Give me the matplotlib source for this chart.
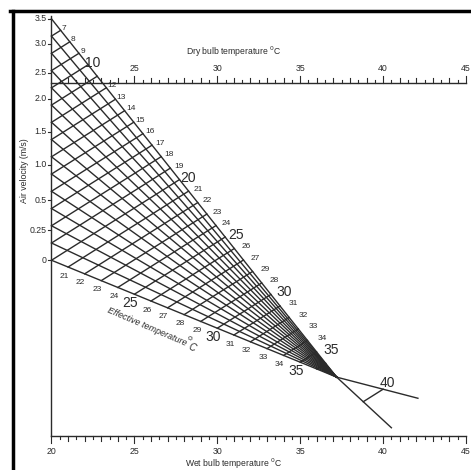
import matplotlib.pyplot as plt
import numpy as np
from matplotlib.lines import Line2D

# velocity scale on the left: labels and where they sit (in ET units along the scale)
vel_labels = ["3.5", "3.0", "2.5", "2.0", "1.5", "1.0", "0.5", "0.25", "0"]
vel_at_et = [6.0, 7.45, 9.13, 10.63, 12.54, 14.45, 16.53, 18.26, 20.0]

# effective temperature grid
et_left = list(range(6, 21))     # lines meeting the velocity scale
et_still = list(range(21, 37))   # lines starting on the 0 m/s line
et_upper = [7, 8, 9, 10, 12, 13, 14, 15, 16, 17, 18, 19, 20, 21, 22, 23, 24,
            25, 26, 27, 28, 29, 30, 31, 32, 33, 34, 35]
et_upper_text = ["7", "8", "9", "10", "12", "13", "14", "15", "16", "17", "18",
                 "19", "20", "21", "22", "23", "24", "25", "26", "27", "29",
                 "28", "30", "31", "32", "33", "34", "35"]
et_lower = list(range(21, 36))
et_big = [10, 20, 25, 30, 35]

dry_ticks = [25, 30, 35, 40, 45]
wet_ticks = [20, 25, 30, 35, 40, 45]

# nomogram geometry (temperature units on both axes)
x0 = 20.0          # velocity scale sits at 20 C
y_still = 10.6     # height of 0 m/s
step = 1.04        # height per ET degree on the velocity scale
et_c, y_c = 37.2, 3.55   # all velocity lines meet here
y_dry, y_wet = 21.27, 0.0
px = 1 / 16.58     # one pixel in data units

ink = "#2b2b2b"
plt.rcParams["font.family"] = ["Liberation Sans Narrow", "Liberation Sans", "DejaVu Sans"]

fig = plt.figure(figsize=(4.71, 4.70), dpi=100)
ax = fig.add_axes([0, 0, 1, 1])
ax.set_xlim(x0 - 51.5 * px, x0 + 419.5 * px)
ax.set_ylim(-34 * px, 436 * px)
ax.axis("off")


def left_y(t):
    return y_still + step * (20 - t)


top = np.array([x0, left_y(6)])
conv = np.array([et_c, y_c])


def upper_pt(t):
    return top + (t - 6) / (et_c - 6) * (conv - top)


def still_pt(t):
    return np.array([t, y_still + (y_c - y_still) * (t - x0) / (et_c - x0)])


lw = 1.0
# velocity lines
for t in et_left:
    ax.plot([x0, et_c], [left_y(t), y_c], color=ink, lw=lw)
# ET lines
for t in et_left[1:] + et_still:
    a = np.array([x0, left_y(t)]) if t <= 20 else still_pt(t)
    b = upper_pt(t)
    ax.plot([a[0], b[0]], [a[1], b[1]], color=ink, lw=lw)

# beyond the convergence point
ax.plot([et_c, 42.1], [y_c, y_c - 0.26 * (42.1 - et_c)], color=ink, lw=lw)
ax.plot([et_c, 40.5], [y_c, y_c - 0.925 * (40.5 - et_c)], color=ink, lw=lw)
s = step + (y_c - y_still) / (et_c - x0)
p40 = np.array([40.0, y_c - 0.26 * (40.0 - et_c)])
xq = (y_c + 0.925 * et_c - p40[1] + s * p40[0]) / (s + 0.925)
ax.plot([p40[0], xq], [p40[1], p40[1] + s * (xq - p40[0])], color=ink, lw=lw)
ax.text(p40[0] + 4 * px, p40[1] + 6 * px, "40", fontsize=10, color=ink,
        ha="center", va="center")

# velocity scale
ax.plot([x0, x0], [y_wet, left_y(6) + 3 * px], color=ink, lw=lw)
for lab, t in zip(vel_labels, vel_at_et):
    ax.plot([x0 - 3 * px, x0], [left_y(t), left_y(t)], color=ink, lw=0.8)
    ax.text(x0 - 5 * px, left_y(t), lab, fontsize=6.3, color=ink,
            ha="right", va="center")
ax.text(x0 - 27 * px, y_still + 5.4, "Air velocity (m/s)", fontsize=6.3,
        color=ink, rotation=90, ha="center", va="center")

# temperature scales
for yy, ticks, sgn in [(y_dry, dry_ticks, 1), (y_wet, wet_ticks, -1)]:
    ax.plot([x0, 45], [yy, yy], color=ink, lw=lw)
    for v in np.arange(20, 45.01, 0.5):
        h = 7 if v % 5 == 0 else (5 if v % 1 == 0 else 3)
        if yy == y_dry and v == 20:
            continue
        ax.plot([v, v], [yy, yy + sgn * h * px], color=ink, lw=0.8)
    for v in ticks:
        ax.text(v, yy + sgn * 15 * px, str(v), fontsize=6.3, color=ink,
                ha="center", va="center")
ax.text(31.0, y_dry + 32 * px, "Dry bulb temperature $^0$C", fontsize=6.2,
        color=ink, ha="center", va="center")
ax.text(31.0, y_wet - 28 * px, "Wet bulb temperature $^0$C", fontsize=6.2,
        color=ink, ha="center", va="center")

# ET labels along the upper edge
for t, lab in zip(et_upper, et_upper_text):
    b = upper_pt(t)
    dx = min(3 + 0.45 * (t - 7), 15)
    fs = 10 if t in et_big else 6
    ax.text(b[0] + dx * px, b[1] + 2 * px, lab, fontsize=fs, color=ink,
            ha="center", va="center")
# ET labels along the 0 m/s line
for t in et_lower:
    a = still_pt(t)
    fs = 10 if t in et_big[2:] else 6
    ax.text(a[0] - 4 * px, a[1] - 9 * px, str(t), fontsize=fs, color=ink,
            ha="center", va="center")

ang = np.degrees(np.arctan((y_c - y_still) / (et_c - x0))) - 1
ax.text(x0 + 96 * px, (436 - 327) * px, "Effective temperature", fontsize=6.5,
        color=ink, rotation=ang, ha="center", va="center", style="italic")
ax.text(x0 + 138 * px, (436 - 339) * px, "o", fontsize=6, color=ink,
        rotation=ang, ha="center", va="center")
ax.text(x0 + 140 * px, (436 - 348) * px, "C", fontsize=7, color=ink,
        rotation=ang, ha="center", va="center", style="italic")

# picture frame
fig.add_artist(Line2D([10 / 471, 1], [1 - 10.5 / 470] * 2, color="black", lw=2.5,
                      transform=fig.transFigure))
fig.add_artist(Line2D([12.5 / 471] * 2, [0, 1 - 10.5 / 470], color="black", lw=2.5,
                      transform=fig.transFigure))

fig.savefig("out.png", dpi=100)
